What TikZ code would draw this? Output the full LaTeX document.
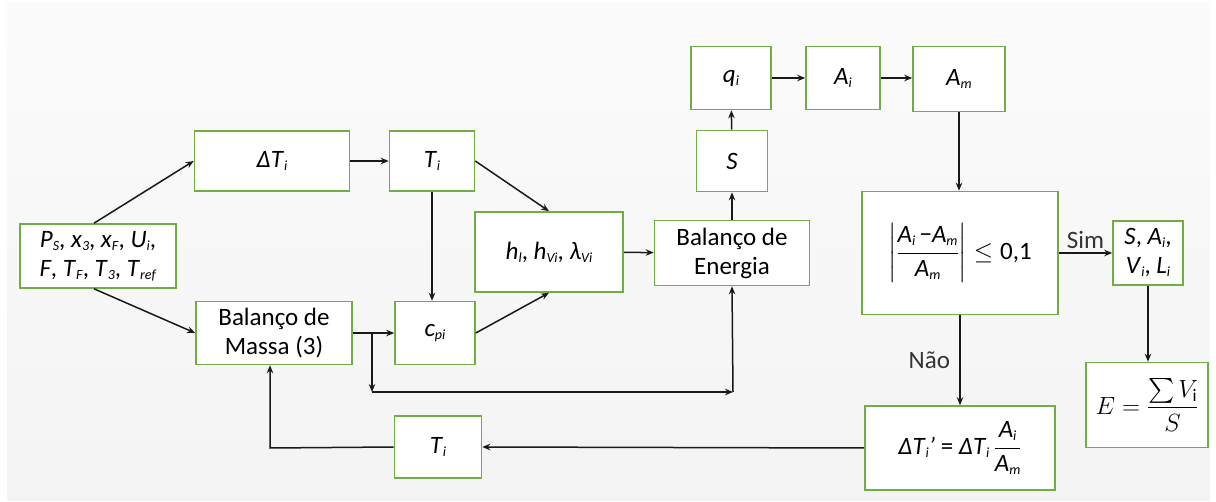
\documentclass[tikz,border=0pt]{standalone}
\usepackage{amsmath}
\usepackage{fontspec}
\setmainfont{Carlito}
\usetikzlibrary{arrows.meta,calc}
\definecolor{boxgreen}{HTML}{70AD47}
% italic variable with a small lowered italic index
\newcommand{\ix}[1]{\raisebox{-0.12em}{\fontsize{14}{14}\selectfont\textit{#1}}}
\newcommand{\vr}[2]{\textit{#1}\ix{#2}}
\begin{document}
\begin{tikzpicture}[x=1pt,y=-1pt,
  box/.style={draw=boxgreen,line width=1.6pt,fill=white,inner sep=0pt,
    align=center,font=\fontsize{25}{29}\selectfont},
  arr/.style={-{Stealth[length=8pt,width=6.5pt]},line width=1.5pt,black!90},
  lbl/.style={font=\fontsize{25}{28}\selectfont,text=black!80}]
\useasboundingbox (0,0) rectangle (1216,502);
\shade[top color=gray!3,bottom color=gray!9] (7,3) rectangle (1210,500);

% input data
\node[box,minimum width=156pt,minimum height=64pt] (inp) at (98,256)
  {\vr{P}{S}, \vr{x}{3}, \vr{x}{F}, \vr{U}{i},\\ \textit{F}, \vr{T}{F}, \vr{T}{3}, \vr{T}{ref}};
% first branch
\node[box,minimum width=155pt,minimum height=60pt] (dT) at (272,161) {\vr{ΔT}{i}};
\node[box,minimum width=85pt,minimum height=60pt] (Ti) at (432,161) {\vr{T}{i}};
% mass balance branch
\node[box,minimum width=156pt,minimum height=63pt] (bm) at (274,333) {Balanço de\\Massa (3)};
\node[box,minimum width=80pt,minimum height=63pt] (cp) at (435,333) {\vr{c}{pi}};
% enthalpies
\node[box,minimum width=148pt,minimum height=80pt] (h) at (549,252)
  {\vr{h}{l}, \vr{h}{Vi}, \vr{λ}{Vi}};
\node[box,minimum width=155pt,minimum height=65pt] (be) at (732,253) {Balanço de\\Energia};
% area calculation
\node[box,minimum width=71pt,minimum height=61pt] (S) at (732,161) {\textit{S}};
\node[box,minimum width=80pt,minimum height=63pt] (q) at (731,78) {\vr{q}{i}};
\node[box,minimum width=74pt,minimum height=63pt] (Ai) at (843,78) {\vr{A}{i}};
\node[box,minimum width=92pt,minimum height=65pt] (Am) at (959,79) {\vr{A}{m}};
% convergence test
\node[box,minimum width=196pt,minimum height=123pt] (cond) at (960,253)
  {$\left|\dfrac{\text{\vr{A}{i}\,−\vr{A}{m}}}{\text{\vr{A}{m}}}\right|\leq\text{0,1}$};
\node[box,minimum width=70pt,minimum height=64pt] (res) at (1148,253)
  {\textit{S}, \vr{A}{i},\\ \vr{V}{i}, \vr{L}{i}};
\node[box,minimum width=122pt,minimum height=85pt] (E) at (1147,405)
  {$E=\dfrac{\sum V_{\mathrm{i}}}{S}$};
\node[box,minimum width=190pt,minimum height=84pt] (dTn) at (960,448)
  {\vr{ΔT}{i}\textit{’} = \vr{ΔT}{i}\,$\dfrac{\text{\vr{A}{i}}}{\text{\vr{A}{m}}}$};
\node[box,minimum width=87pt,minimum height=62pt] (Tb) at (438,447) {\vr{T}{i}};

% junction points
\coordinate (j1) at (372,333);
\coordinate (j2) at (372,392);
\coordinate (j3) at (733,392);
\coordinate (j4) at (270,448);

% connectors
\draw[arr] ($(inp.north)+(-4,0)$) -- (dT.west);
\draw[arr] ($(inp.south)+(-4,0)$) -- (bm.west);
\draw[arr] (dT) -- (Ti);
\draw[arr] (Ti.east) -- (h.north);
\draw[arr] (Ti) -- (Ti|-cp.north);
\draw[arr] (bm) -- (cp);
\draw[arr] (cp.east) -- (h.south);
\draw[arr] (j1) -- (j2);
\draw[arr] (j2) -- (j3);
\draw[arr] (j3) -- (be.south);
\draw[arr] (h) -- (be);
\draw[arr] (be) -- (S);
\draw[arr] (S) -- (q);
\draw[arr] (q) -- (Ai);
\draw[arr] (Ai) -- (Ai-|Am.west);
\draw[arr] (Am) -- (Am|-cond.north);
\draw[arr] (cond.east) -- node[lbl,above] {Sim} (res.west);
\draw[arr] (res) -- (res|-E.north);
\draw[arr] (cond) -- node[lbl,left=6pt] {Não} (dTn);
\draw[arr] (dTn.west) -- (Tb.east);
\draw[arr] (Tb.west) -- (j4) -- (j4|-bm.south);
\end{tikzpicture}
\end{document}
